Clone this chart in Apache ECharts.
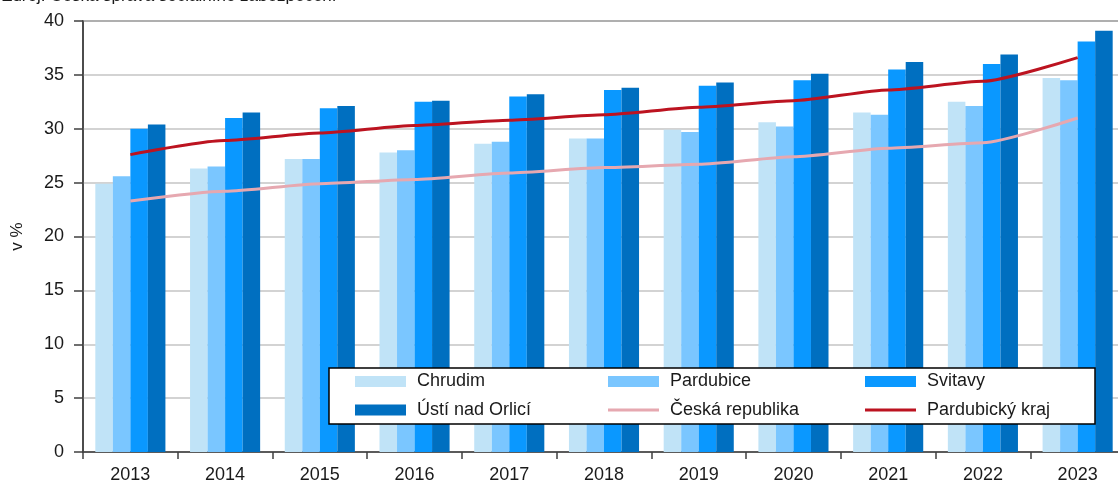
<!DOCTYPE html>
<html>
<head>
<meta charset="utf-8">
<script src="https://cdn.jsdelivr.net/npm/echarts@6/dist/echarts.min.js"></script>
<style>html,body{margin:0;padding:0;background:#fff;}#c{width:1118px;height:485px;}</style>
</head>
<body>
<div id="c"></div>
<script>
const years = ['2013','2014','2015','2016','2017','2018','2019','2020','2021','2022','2023'];
const chrudim   = [24.9, 26.3, 27.2, 27.8, 28.6, 29.1, 29.9, 30.6, 31.5, 32.5, 34.7];
const pardubice = [25.6, 26.5, 27.2, 28.0, 28.8, 29.1, 29.7, 30.2, 31.3, 32.1, 34.5];
const svitavy   = [30.0, 31.0, 31.9, 32.5, 33.0, 33.6, 34.0, 34.5, 35.5, 36.0, 38.1];
const usti      = [30.4, 31.5, 32.1, 32.6, 33.2, 33.8, 34.3, 35.1, 36.2, 36.9, 39.1];
const ceskaRep  = [23.3, 24.2, 24.9, 25.3, 25.9, 26.4, 26.7, 27.4, 28.2, 28.7, 31.0];
const pardKraj  = [27.6, 28.9, 29.6, 30.3, 30.8, 31.3, 32.0, 32.6, 33.6, 34.4, 36.6];
const yTicks = [0, 5, 10, 15, 20, 25, 30, 35, 40];

const FONT = '"Liberation Sans", Arial, sans-serif';
const LINE_ICON = 'path://M0,0L0.02,0L0,0.02Z M0,4L51,4L51,7L0,7Z M51,11L50.98,11L51,10.98Z';
const chart = echarts.init(document.getElementById('c'));

const legendText = {fontFamily: FONT, fontSize: 18, color: '#1a1a1a', lineHeight: 18, padding: [0,0,0,6]};
function legendCol(left, barName, lineName, lineIsLine) {
  return {
    orient: 'vertical', left: left, top: 372.5, padding: 0,
    itemWidth: 51, itemHeight: 11, itemGap: 10.5,
    textStyle: legendText, z: 10, selectedMode: false,
    data: [
      {name: barName, icon: 'rect'},
      {name: lineName, icon: lineIsLine ? LINE_ICON : 'rect'}
    ]
  };
}

chart.setOption({
  animation: false,
  title: {
    text: 'Zdroj: Česká správa sociálního zabezpečení',
    left: 2, top: -12, padding: 0,
    textStyle: {fontFamily: FONT, fontSize: 17, fontWeight: 'normal', color: '#1a1a1a', lineHeight: 17}
  },
  grid: {
    left: 83, top: 21, right: -7, bottom: 33,
    containLabel: false, outerBoundsMode: 'none',
    show: true, borderColor: '#404040', borderWidth: 1.5, backgroundColor: 'transparent'
  },
  graphic: [{
    type: 'rect', z: 5,
    shape: {x: 329, y: 368, width: 766, height: 56},
    style: {fill: '#fff', stroke: '#000', lineWidth: 1.5}
  }],
  legend: [
    legendCol(355, 'Chrudim', 'Ústí nad Orlicí', false),
    legendCol(608, 'Pardubice', 'Česká republika', true),
    legendCol(865, 'Svitavy', 'Pardubický kraj', true)
  ],
  xAxis: {
    type: 'category', data: years, boundaryGap: true,
    axisLine: {lineStyle: {color: '#404040', width: 1.5}},
    axisTick: {show: true, length: 7, lineStyle: {color: '#404040', width: 1.5}},
    axisLabel: {fontFamily: FONT, fontSize: 18, color: '#1a1a1a', margin: 14}
  },
  yAxis: {
    type: 'value', min: yTicks[0], max: yTicks[yTicks.length-1], interval: 5,
    name: 'v %', nameLocation: 'middle', nameRotate: 90, nameGap: 57,
    nameTextStyle: {fontFamily: FONT, fontSize: 17, color: '#1a1a1a'},
    axisLine: {show: true, lineStyle: {color: '#404040', width: 1.5}},
    axisTick: {show: true, length: 9, lineStyle: {color: '#404040', width: 1.5}},
    axisLabel: {fontFamily: FONT, fontSize: 18, color: '#1a1a1a', margin: 19},
    splitLine: {lineStyle: {color: '#C4C4C4', width: 1.5}}
  },
  series: [
    {name: 'Chrudim', type: 'bar', data: chrudim, barGap: '0%', barCategoryGap: '26%', itemStyle: {color: '#C0E3F7'}},
    {name: 'Pardubice', type: 'bar', data: pardubice, itemStyle: {color: '#7AC6FF'}},
    {name: 'Svitavy', type: 'bar', data: svitavy, itemStyle: {color: '#0A98FF'}},
    {name: 'Ústí nad Orlicí', type: 'bar', data: usti, itemStyle: {color: '#006FC0'}},
    {name: 'Česká republika', type: 'line', data: ceskaRep, symbol: 'none', smooth: 0.2, smoothMonotone: 'x', z: 3,
      lineStyle: {color: '#E6A8B0', width: 3}, itemStyle: {color: '#E6A8B0'}},
    {name: 'Pardubický kraj', type: 'line', data: pardKraj, symbol: 'none', smooth: 0.2, smoothMonotone: 'x', z: 3,
      lineStyle: {color: '#BC1320', width: 3}, itemStyle: {color: '#BC1320'}}
  ]
});
</script>
</body>
</html>
